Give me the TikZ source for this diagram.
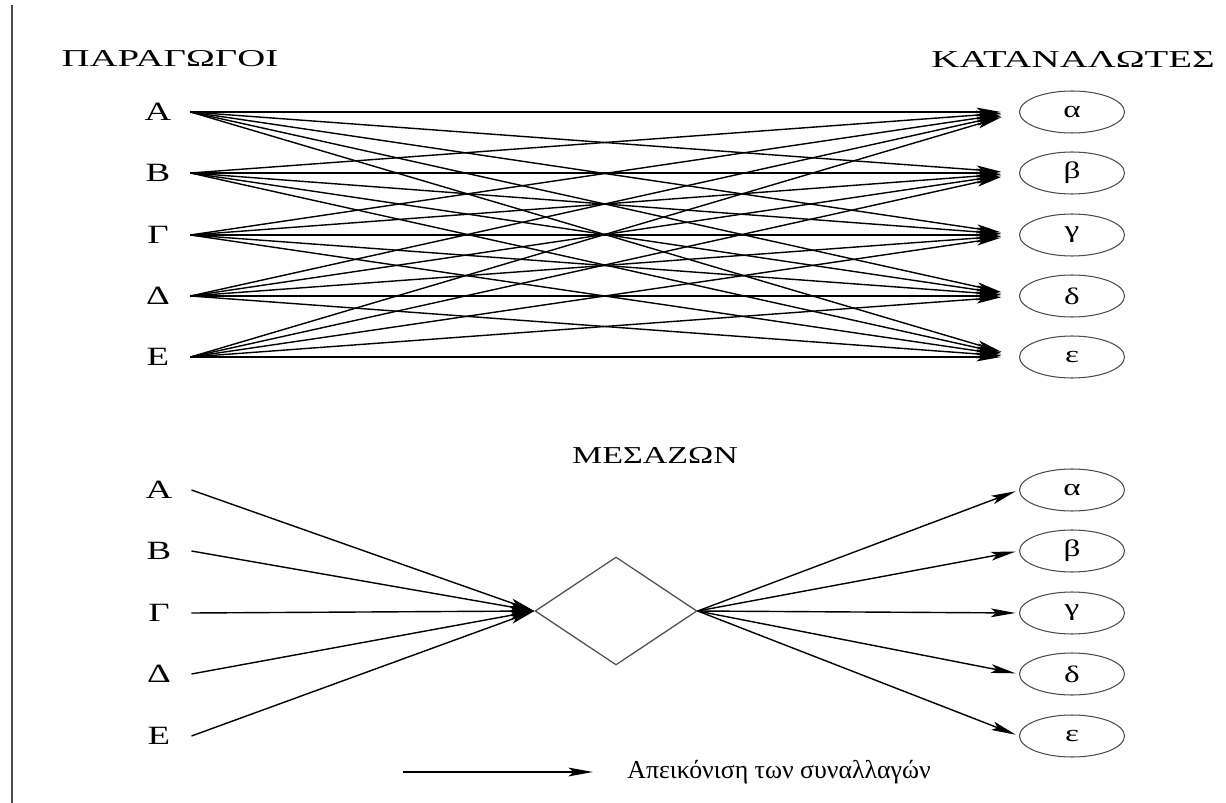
\documentclass[tikz,border=0pt]{standalone}
\usepackage{fontspec}
\setmainfont{Liberation Serif}[FakeStretch=1.4]
\newfontfamily\titlefont{Liberation Serif}[FakeStretch=1.6]
\newfontfamily\legendfont{Liberation Serif}
\usetikzlibrary{shapes.geometric,arrows.meta}
\tikzstyle{titulo} = [font=\titlefont\fontsize{13.8}{16}\selectfont, inner sep=0pt]
\tikzstyle{paragogos} = [font=\fontsize{15}{18}\selectfont, minimum width=1.3cm, inner sep=0pt, outer sep=0pt]
\tikzstyle{katanalotis} = [draw=black!70, ellipse, minimum width=2.1cm, minimum height=0.84cm, inner sep=0pt, line width=0.6pt, font=\fontsize{13.5}{15}\selectfont]
\tikzstyle{mesazon} = [draw=black!70, diamond, minimum width=3.24cm, minimum height=2.16cm, inner sep=0pt, line width=0.7pt]
\tikzstyle{synallagi} = [-{Stealth[length=14pt,width=5pt,inset=3pt]}, line width=0.8pt]
\begin{document}
\begin{tikzpicture}[x=0.02cm, y=-0.02cm]
	\useasboundingbox (0,0) rectangle (1226,803);
	\draw[black!70, line width=1.1pt] (12,5) -- (12,803);
	\node[titulo] (tparag) at (170,59) {ΠΑΡΑΓΩΓΟΙ};
	\node[titulo] (tkatan) at (1073,59) {ΚΑΤΑΝΑΛΩΤΕΣ};
	\node[titulo, font=\fontsize{13.8}{16}\selectfont] (tmesaz) at (655,455) {ΜΕΣΑΖΩΝ};
	% pano: oloi me olous
	\foreach \n/\t/\y in {1/Α/112, 2/Β/173, 3/Γ/235, 4/Δ/296, 5/Ε/357}
		\node[paragogos] (pa\n) at (158,\y) {\t};
	\foreach \n/\t/\y in {1/α/112, 2/β/173, 3/γ/235, 4/δ/296, 5/ε/357}
		\node[katanalotis] (ka\n) at (1072,\y) {\t};
	\foreach \i in {1,...,5}
		\foreach \j in {1,...,5}
			\draw[synallagi, shorten >=0.36cm] (pa\i.east) -- (ka\j.west);
	% kato: mesa apo ton mesazonta
	\foreach \n/\t/\y in {1/Α/490, 2/Β/551, 3/Γ/613, 4/Δ/674, 5/Ε/736}
		\node[paragogos] (pb\n) at (159,\y) {\t};
	\node[mesazon] (mes) at (616,611) {};
	\foreach \n/\t/\y in {1/α/490, 2/β/551, 3/γ/613, 4/δ/674, 5/ε/736}
		\node[katanalotis] (kb\n) at (1072,\y) {\t};
	\foreach \i in {1,...,5}
		\draw[synallagi] (pb\i.east) -- (mes.west);
	\foreach \j in {1,...,5}
		\draw[synallagi, shorten >=2pt] (mes.east) -- (kb\j.west);
	\coordinate (leg1) at (403,772);
	\coordinate (leg2) at (593,772);
	\draw[synallagi] (leg1) -- (leg2);
	\node[anchor=west, font=\legendfont\fontsize{14.7}{17}\selectfont, inner sep=0pt] (legend) at (627,772) {Απεικόνιση των συναλλαγών};
\end{tikzpicture}
\end{document}
